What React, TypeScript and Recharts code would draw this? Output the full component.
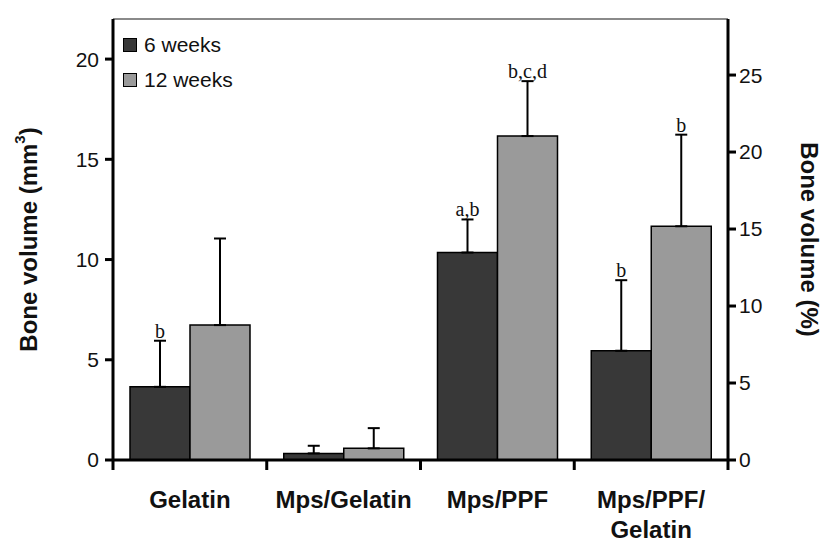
import { BarChart, Bar, XAxis, YAxis, ErrorBar, LabelList, ReferenceLine, Legend } from 'recharts'

const groups = ['Gelatin', 'Mps/Gelatin', 'Mps/PPF', 'Mps/PPF/Gelatin']
const groupLines = [['Gelatin'], ['Mps/Gelatin'], ['Mps/PPF'], ['Mps/PPF/', 'Gelatin']]
const seriesNames = ['6 weeks', '12 weeks']
const weeks6 = [3.65, 0.33, 10.35, 5.45]
const weeks6Err = [2.3, 0.38, 1.65, 3.52]
const weeks6Marks = ['b', '', 'a,b', 'b']
const weeks12 = [6.73, 0.58, 16.16, 11.66]
const weeks12Err = [4.32, 1.01, 2.74, 4.57]
const weeks12Marks = ['', '', 'b,c,d', 'b']
const leftTicks = [0, 5, 10, 15, 20]
const rightTicks = [0, 5, 10, 15, 20, 25]

const data = groups.map((g, i) => ({
  group: g,
  w6: weeks6[i],
  w6e: [0, weeks6Err[i]],
  w6top: weeks6Err[i],
  w6mark: weeks6Marks[i],
  w12: weeks12[i],
  w12e: [0, weeks12Err[i]],
  w12top: weeks12Err[i],
  w12mark: weeks12Marks[i],
}))

const sans = "'Liberation Sans', Arial, sans-serif"
const serif = "'Liberation Serif', 'Times New Roman', serif"
const axisStroke = { stroke: '#000', strokeWidth: 3 }

function GroupTick(props: any) {
  const { x, y, payload, index, width, visibleTicksCount } = props
  const half = payload?.offset > 0 ? payload.offset : width / visibleTicksCount / 2
  const lines = groupLines[index] || [payload.value]
  return (
    <g>
      <line x1={x - half} y1={y} x2={x - half} y2={y + 10} stroke="#000" strokeWidth={3} />
      {index === visibleTicksCount - 1 && (
        <line x1={x + half} y1={y} x2={x + half} y2={y + 10} stroke="#000" strokeWidth={3} />
      )}
      <text x={x} y={y + 48} textAnchor="middle" fontFamily={sans} fontWeight="bold" fontSize={24} fill="#111">
        {lines.map((l: string, k: number) => (
          <tspan key={k} x={x} dy={k === 0 ? 0 : 30}>{l}</tspan>
        ))}
      </text>
    </g>
  )
}

function Mark(props: any) {
  const { x, y, width, value } = props
  if (!value) return null
  return (
    <text x={x + width / 2} y={y - 3} textAnchor="middle" fontFamily={serif} fontSize={20} fill="#111">
      {value}
    </text>
  )
}

function LeftTitle(props: any) {
  const { viewBox } = props
  const cx = viewBox.x + 28
  const cy = viewBox.y + viewBox.height / 2
  return (
    <text x={cx} y={cy} transform={`rotate(-90 ${cx} ${cy})`} textAnchor="middle" dominantBaseline="central"
      fontFamily={sans} fontWeight="bold" fontSize={24} fill="#111">
      <tspan>Bone volume (mm</tspan>
      <tspan dy={-9} fontSize={15}>3</tspan>
      <tspan dy={9}>)</tspan>
    </text>
  )
}

function RightTitle(props: any) {
  const { viewBox } = props
  const cx = viewBox.x + 81
  const cy = viewBox.y + viewBox.height / 2
  return (
    <text x={cx} y={cy} transform={`rotate(90 ${cx} ${cy})`} textAnchor="middle" dominantBaseline="central"
      fontFamily={sans} fontWeight="bold" fontSize={24} fill="#111">
      Bone volume (%)
    </text>
  )
}

function LegendBox(props: any) {
  const items = (props.payload || [])
    .filter((p: any) => p.type !== 'none')
    .sort((a: any, b: any) => seriesNames.indexOf(a.value) - seriesNames.indexOf(b.value))
  return (
    <div style={{ fontFamily: sans, fontSize: 21, color: '#111' }}>
      {items.map((p: any) => (
        <div key={p.value} style={{ display: 'flex', alignItems: 'center', height: 35 }}>
          <span style={{ width: 12, height: 12, background: p.color, border: '1.5px solid #000', marginRight: 7 }} />
          <span>{p.value}</span>
        </div>
      ))}
    </div>
  )
}

export default function App() {
  return (
    <div style={{ position: 'absolute', left: 0, top: 0, width: 832, height: 554, background: '#fff' }}>
      <BarChart width={832} height={554} data={data} margin={{ top: 19, right: 0, bottom: 0, left: 0 }}
        barGap={0} barCategoryGap="11%">
        <XAxis dataKey="group" height={94} interval={0} axisLine={axisStroke} tickLine={false}
          tickSize={0} tickMargin={0} tick={<GroupTick />} />
        <YAxis yAxisId="left" width={113} domain={[0, 22]} ticks={leftTicks} allowDataOverflow
          axisLine={axisStroke} tickLine={axisStroke} tickSize={8} tickMargin={6}
          tick={{ fontFamily: sans, fontSize: 21, fill: '#111' }} label={{ content: LeftTitle }} />
        <YAxis yAxisId="right" orientation="right" width={104} domain={[0, 28.64]} ticks={rightTicks} allowDataOverflow
          axisLine={axisStroke} tickLine={axisStroke} tickSize={8} tickMargin={3}
          tick={{ fontFamily: sans, fontSize: 21, fill: '#111', textAnchor: 'start' }} label={{ content: RightTitle }} />
        <ReferenceLine yAxisId="left" y={22} stroke="#8a8a8a" strokeWidth={2} />
        <Legend layout="vertical" align="center" verticalAlign="middle" content={<LegendBox />}
          wrapperStyle={{ left: 123, top: 27, width: 200 }} />
        <Bar yAxisId="left" dataKey="w6" name={seriesNames[0]} stackId="a" barSize={60} fill="#383838" stroke="#000"
          strokeWidth={1.5} isAnimationActive={false}>
          <ErrorBar dataKey="w6e" direction="y" width={6} stroke="#000" strokeWidth={2} />
        </Bar>
        <Bar yAxisId="left" dataKey="w6top" stackId="a" barSize={60} fill="none" stroke="none" legendType="none"
          isAnimationActive={false}>
          <LabelList dataKey="w6mark" content={<Mark />} />
        </Bar>
        <Bar yAxisId="left" dataKey="w12" name={seriesNames[1]} stackId="b" barSize={60} fill="#9a9a9a" stroke="#000"
          strokeWidth={1.5} isAnimationActive={false}>
          <ErrorBar dataKey="w12e" direction="y" width={6} stroke="#000" strokeWidth={2} />
        </Bar>
        <Bar yAxisId="left" dataKey="w12top" stackId="b" barSize={60} fill="none" stroke="none" legendType="none"
          isAnimationActive={false}>
          <LabelList dataKey="w12mark" content={<Mark />} />
        </Bar>
      </BarChart>
    </div>
  )
}
